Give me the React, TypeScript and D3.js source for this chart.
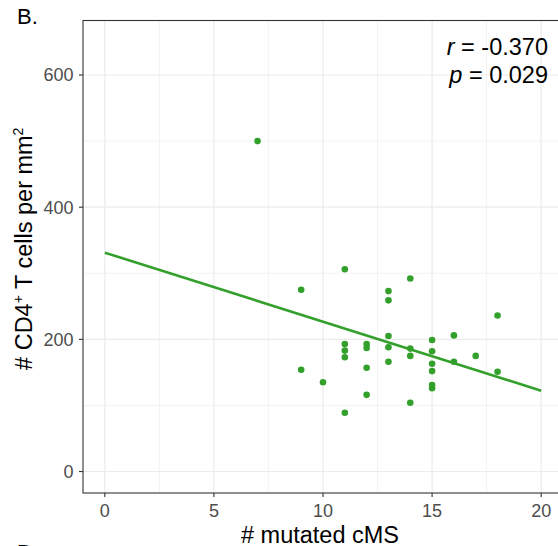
import React from "react";
import * as d3 from "d3";

const mutatedCMS = [7, 9, 9, 10, 11, 11, 11, 11, 11, 12, 12, 12, 12, 13, 13, 13, 13, 13, 14, 14, 14, 14, 15, 15, 15, 15, 15, 15, 16, 16, 17, 18, 18];
const cd4Density = [500, 275, 154, 135, 306, 193, 183, 173, 89, 193, 187, 157, 116, 273, 259, 205, 188, 166, 292, 186, 175, 104, 199, 182, 163, 152, 131, 126, 206, 166, 175, 236, 151];
const xTicks = [0, 5, 10, 15, 20];
const xMinor = [2.5, 7.5, 12.5, 17.5];
const yTicks = [0, 200, 400, 600];
const yMinor = [100, 300, 500];
const stats = { r: "-0.370", p: "0.029" };

const W = 558;
const H = 546;
const L = 83, R = 563, T = 20.5, B = 493;
const GREEN = "#33a02c";
const FONT = "'Liberation Sans', Arial, Helvetica, sans-serif";

function fit(xs: number[], ys: number[]) {
  const mx = d3.mean(xs)!;
  const my = d3.mean(ys)!;
  let sxy = 0, sxx = 0;
  xs.forEach((x, i) => {
    sxy += (x - mx) * (ys[i] - my);
    sxx += (x - mx) * (x - mx);
  });
  const slope = sxy / sxx;
  return { slope, intercept: my - slope * mx };
}

export default function App() {
  const x = d3.scaleLinear().domain([-1, 21]).range([L, R]);
  const y = d3.scaleLinear().domain([-32.5, 682.5]).range([B, T]);
  const { slope, intercept } = fit(mutatedCMS, cd4Density);
  const lineX = [0, 20];
  const line = d3
    .line<number>()
    .x((d) => x(d))
    .y((d) => y(intercept + slope * d));
  const grid = "#ebebeb";
  const dark = "#333333";
  return (
    <div style={{ position: "absolute", left: 0, top: 0 }}>
      <svg width={W} height={H} style={{ display: "block", fontFamily: FONT }}>
        <rect x={0} y={0} width={W} height={H} fill="#ffffff" />
        {xMinor.map((v) => (
          <line key={"xm" + v} x1={x(v)} x2={x(v)} y1={T} y2={B} stroke={grid} strokeWidth={0.6} />
        ))}
        {yMinor.map((v) => (
          <line key={"ym" + v} x1={L} x2={R} y1={y(v)} y2={y(v)} stroke={grid} strokeWidth={0.6} />
        ))}
        {xTicks.map((v) => (
          <line key={"xg" + v} x1={x(v)} x2={x(v)} y1={T} y2={B} stroke={grid} strokeWidth={1.2} />
        ))}
        {yTicks.map((v) => (
          <line key={"yg" + v} x1={L} x2={R} y1={y(v)} y2={y(v)} stroke={grid} strokeWidth={1.2} />
        ))}
        {mutatedCMS.map((v, i) => (
          <circle key={"p" + i} cx={x(v)} cy={y(cd4Density[i])} r={3.3} fill={GREEN} />
        ))}
        <path d={line(lineX) || ""} fill="none" stroke={GREEN} strokeWidth={2.6} />
        <rect x={L} y={T} width={R - L} height={B - T} fill="none" stroke={dark} strokeWidth={1.1} />
        {xTicks.map((v) => (
          <g key={"xt" + v}>
            <line x1={x(v)} x2={x(v)} y1={B} y2={B + 4} stroke={dark} strokeWidth={1.1} />
            <text x={x(v)} y={517} textAnchor="middle" fontSize={18} fill="#4d4d4d">
              {v}
            </text>
          </g>
        ))}
        {yTicks.map((v) => (
          <g key={"yt" + v}>
            <line x1={L - 4} x2={L} y1={y(v)} y2={y(v)} stroke={dark} strokeWidth={1.1} />
            <text x={73.5} y={y(v) + 6.4} textAnchor="end" fontSize={18} fill="#4d4d4d">
              {v}
            </text>
          </g>
        ))}
        <text x={(L + R) / 2 - 3} y={543} textAnchor="middle" fontSize={23.5} fill="#000">
          # mutated cMS
        </text>
        <text
          transform={`translate(32, ${(T + B) / 2 - 8}) rotate(-90)`}
          textAnchor="middle"
          fontSize={23.5}
          fill="#000"
        >
          # CD4
          <tspan fontSize={14} dy={-9}>+</tspan>
          <tspan dy={9}> T cells per mm</tspan>
          <tspan fontSize={14} dy={-9}>2</tspan>
        </text>
        <text x={548} y={54.5} textAnchor="end" fontSize={23.5} fill="#000">
          <tspan fontStyle="italic">r</tspan> = {stats.r}
        </text>
        <text x={548} y={83.3} textAnchor="end" fontSize={23.5} fill="#000">
          <tspan fontStyle="italic">p</tspan> = {stats.p}
        </text>
        <text x={17} y={24} fontSize={22} fill="#000">B.</text>
        <text x={17} y={560} fontSize={22} fill="#000">D.</text>
      </svg>
    </div>
  );
}
